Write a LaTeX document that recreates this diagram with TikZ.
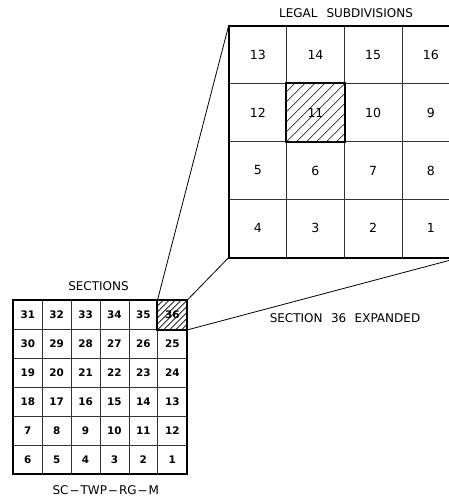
\documentclass[tikz,border=0pt]{standalone}
\usepackage{fontspec}
\usepackage{graphicx}
\setmainfont{DejaVu Sans}
\usetikzlibrary{calc}
\newcommand{\widehy}{\hspace{0.6pt}\scalebox{2.4}[1]{-}\hspace{0.6pt}}
\tikzset{
  scell/.style={draw=black!80, line width=0.55pt, minimum width=21.675pt, minimum height=21.675pt, inner sep=0pt, font=\fontsize{7.8}{9}\selectfont\bfseries},
  lcell/.style={draw=black!80, line width=0.55pt, minimum width=43.24pt, minimum height=43.35pt, inner sep=0pt, font=\fontsize{9.4}{11}\selectfont},
  thickb/.style={line width=1.5pt},
  conn/.style={line width=0.6pt},
  hatch/.style={line width=0.45pt},
  lbl/.style={inner sep=0pt, font=\fontsize{9}{11}\selectfont}
}
\begin{document}
\begin{tikzpicture}[x=0.75pt,y=-0.75pt]
\useasboundingbox (0,0) rectangle (449,499);
% small grid (sections)
\foreach \n [count=\c from 0] in {31,32,33,34,35,36}
  \node[scell] (s\n) at ({13.3+28.9*(\c+0.5)},{300.7+28.9*0.5}) {\n};
\foreach \n [count=\c from 0] in {30,29,28,27,26,25}
  \node[scell] (s\n) at ({13.3+28.9*(\c+0.5)},{300.7+28.9*1.5}) {\n};
\foreach \n [count=\c from 0] in {19,20,21,22,23,24}
  \node[scell] (s\n) at ({13.3+28.9*(\c+0.5)},{300.7+28.9*2.5}) {\n};
\foreach \n [count=\c from 0] in {18,17,16,15,14,13}
  \node[scell] (s\n) at ({13.3+28.9*(\c+0.5)},{300.7+28.9*3.5}) {\n};
\foreach \n [count=\c from 0] in {7,8,9,10,11,12}
  \node[scell] (s\n) at ({13.3+28.9*(\c+0.5)},{300.7+28.9*4.5}) {\n};
\foreach \n [count=\c from 0] in {6,5,4,3,2,1}
  \node[scell] (s\n) at ({13.3+28.9*(\c+0.5)},{300.7+28.9*5.5}) {\n};
% hatch in 36
\begin{scope}
  \clip (s36.south west) rectangle (s36.north east);
  \foreach \i in {-30,-24,...,30}
    \draw[hatch] ($(s36.south west)+(\i,0)$) -- ++(40,-40);
\end{scope}
\draw[thickb] (s31.north west) rectangle (s1.south east);
\draw[thickb] (s36.north west) rectangle (s36.south east);
% big grid (legal subdivisions)
\foreach \n [count=\c from 0] in {13,14,15,16}
  \node[lcell] (l\n) at ({229+57.65*(\c+0.5)},{26+57.8*0.5}) {\n};
\foreach \n [count=\c from 0] in {12,11,10,9}
  \node[lcell] (l\n) at ({229+57.65*(\c+0.5)},{26+57.8*1.5}) {\n};
\foreach \n [count=\c from 0] in {5,6,7,8}
  \node[lcell] (l\n) at ({229+57.65*(\c+0.5)},{26+57.8*2.5}) {\n};
\foreach \n [count=\c from 0] in {4,3,2,1}
  \node[lcell] (l\n) at ({229+57.65*(\c+0.5)},{26+57.8*3.5}) {\n};
\begin{scope}
  \clip (l11.south west) rectangle (l11.north east);
  \foreach \i in {-60,-50,...,60}
    \draw[hatch] ($(l11.south west)+(\i,0)$) -- ++(80,-80);
\end{scope}
\draw[thickb] (l13.north west) rectangle (l1.south east);
\draw[thickb] (l11.north west) rectangle (l11.south east);
% connectors
\draw[conn] (s36.north west) -- (l13.north west);
\draw[conn] (s36.north east) -- (l4.south west);
\draw[conn] (s36.south east) -- (l1.south east);
% labels
\node[lbl] (tlegal) at (346,13.5) {LEGAL\hspace{0.75em}SUBDIVISIONS};
\node[lbl] (tsect) at (98.5,286.5) {SECTIONS};
\node[lbl] (texp) at (345,318.5) {SECTION\hspace{0.7em}36\hspace{0.7em}EXPANDED};
\node[lbl] (tsc) at (105.8,490) {SC\widehy TWP\widehy RG\widehy M};
\end{tikzpicture}
\end{document}
